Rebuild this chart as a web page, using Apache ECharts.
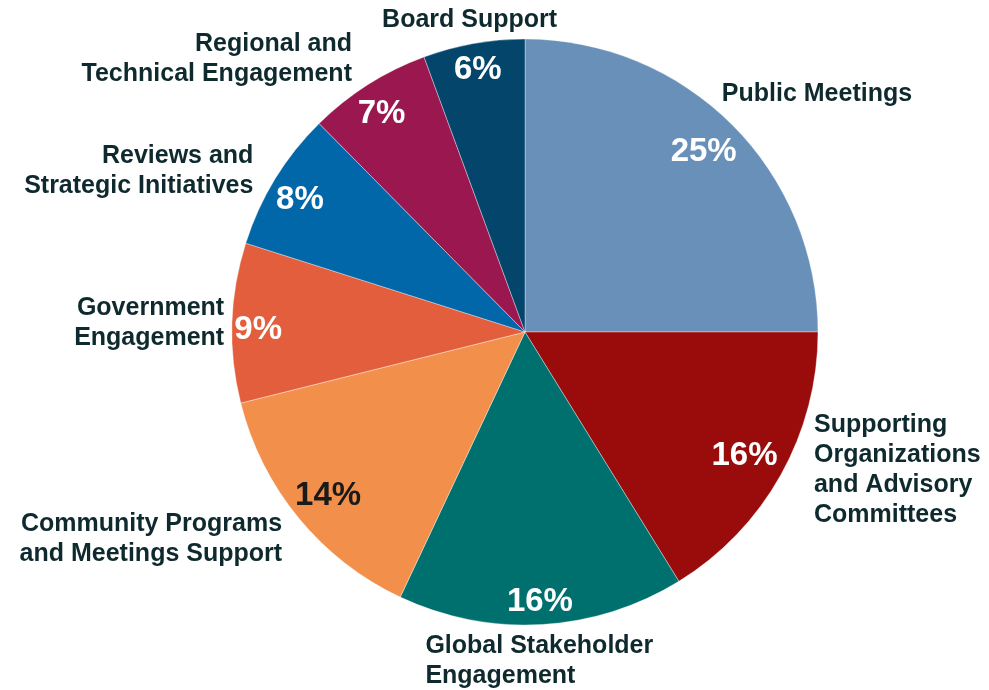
<!DOCTYPE html>
<html><head><meta charset="utf-8">
<script src="https://cdn.jsdelivr.net/npm/echarts@6/dist/echarts.min.js"></script>
<style>html,body{margin:0;padding:0;background:#fff}#c{width:989px;height:690px}</style>
</head><body><div id="c"></div>
<script>
// Categories (clockwise from 12 o'clock)
const categories = [
  'Public Meetings',
  'Supporting\nOrganizations\nand Advisory\nCommittees',
  'Global Stakeholder\nEngagement',
  'Community Programs\nand Meetings Support',
  'Government\nEngagement',
  'Reviews and\nStrategic Initiatives',
  'Regional and\nTechnical Engagement',
  'Board Support'
];
// Share values (percent)
const values = [25, 16.2, 15.8, 14.1, 8.8, 7.7, 6.8, 5.6];
const colors = ['#6890b8', '#9a0b0b', '#00706e', '#f28f4a', '#e35e3c', '#0267a9', '#9b174f', '#04466b'];
const pctColors = ['#fff', '#fff', '#fff', '#1a1a1a', '#fff', '#fff', '#fff', '#fff'];
// label nudges (style, not data)
const nameAlign = ['left', 'left', 'left', 'right', 'right', 'right', 'right', 'right'];
const nameNudge = [[-26, -20], [15, -12], [-122, 22], [0, 12], [12, 1], [-4, 0], [-3, -13], [91, -9]];
const pctNudge = [[-8, 7], [-11, -5], [0, 6], [7, -4], [-3, 6], [0, 6], [-2, 5], [-1, -2]];

const total = values.reduce((a, b) => a + b, 0);
const chart = echarts.init(document.getElementById('c'));
const textColor = '#0f2a2e';
const font = 'Liberation Sans, Arial, sans-serif';

chart.setOption({
  animation: false,
  series: [
    {
      type: 'pie',
      center: [525, 332],
      radius: [0, 293],
      startAngle: 90,
      avoidLabelOverlap: false,
      itemStyle: { borderColor: 'rgba(255,255,255,0.45)', borderWidth: 0.8 },
      label: {
        show: true, position: 'outside', formatter: '{b}',
        fontFamily: font, fontWeight: 'bold', fontSize: 25, lineHeight: 30,
        color: textColor, distanceToLabelLine: 5
      },
      labelLine: { show: false, length: 15, length2: 0 },
      labelLayout: function (p) {
        const i = p.dataIndex;
        return { dx: nameNudge[i][0], dy: nameNudge[i][1], align: nameAlign[i] };
      },
      emphasis: { disabled: true },
      data: categories.map((c, i) => ({ name: c, value: values[i], itemStyle: { color: colors[i] } }))
    },
    {
      type: 'pie',
      center: [525, 332],
      radius: [229, 293],
      startAngle: 90,
      silent: true,
      avoidLabelOverlap: false,
      itemStyle: { color: 'rgba(0,0,0,0)' },
      label: {
        show: true, position: 'inside',
        fontFamily: font, fontWeight: 'bold', fontSize: 33,
        formatter: p => Math.round(p.value / total * 100) + '%'
      },
      labelLine: { show: false },
      labelLayout: function (p) {
        const i = p.dataIndex;
        return { dx: pctNudge[i][0], dy: pctNudge[i][1] };
      },
      emphasis: { disabled: true },
      data: categories.map((c, i) => ({ name: c, value: values[i], label: { color: pctColors[i] } }))
    }
  ]
});
</script></body></html>
